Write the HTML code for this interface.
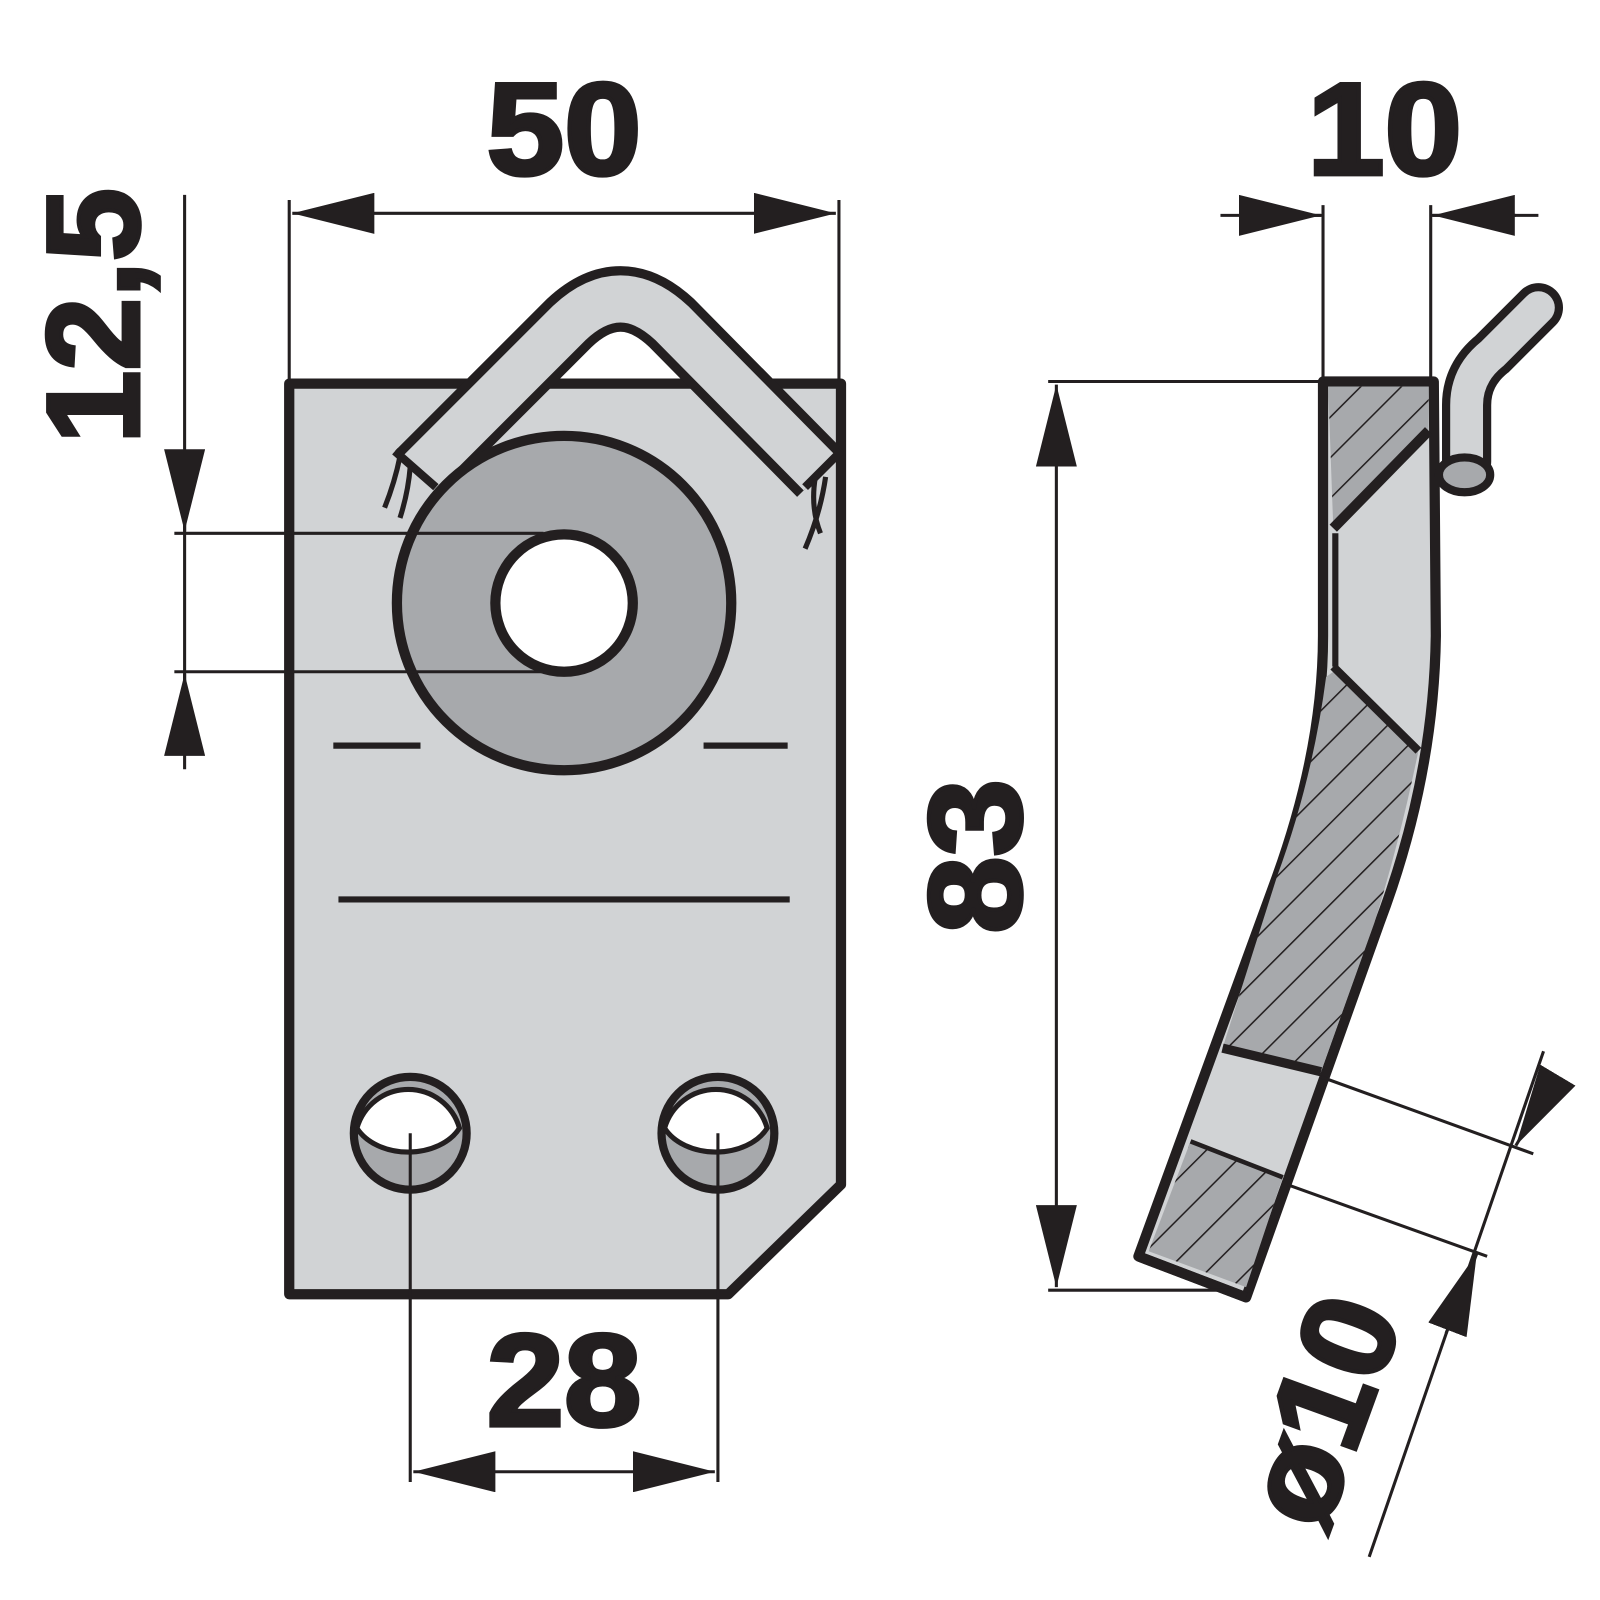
<!DOCTYPE html>
<html><head><style>html,body{margin:0;padding:0;background:#fff}svg{display:block}</style></head><body>
<svg width="1600" height="1600" viewBox="0 0 1600 1600" xmlns="http://www.w3.org/2000/svg">
<defs>
<pattern id="h" width="28" height="28" patternUnits="userSpaceOnUse" patternTransform="rotate(45)">
<rect width="28" height="28" fill="#a7a9ac"/><line x1="0" y1="0" x2="0" y2="28" stroke="#231f20" stroke-width="3"/>
</pattern>
<marker id="a" viewBox="0 0 80 40" refX="80" refY="20" markerWidth="80" markerHeight="40" markerUnits="userSpaceOnUse" orient="auto-start-reverse"><path d="M0,0 L80,20 L0,40 Z" fill="#231f20"/></marker>
</defs>
<g transform="scale(1.0256)">
<g stroke="#231f20" fill="none">
<path d="M282,374 L820,374 L820,1155 L710,1262 L282,1262 Z" fill="#d1d3d5" stroke-width="10" stroke-linejoin="round"/>
<path d="M408,462 L555,315 Q605,268 655,315 L800,462" stroke-width="64"/>
<path d="M408,462 L555,315 Q605,268 655,315 L800,462" stroke="#d1d3d5" stroke-width="46"/>
<path d="M385,440 L425,475 M820,440 L785,475" stroke-width="8"/>
<path d="M390,445 Q385,470 375,495 M400,455 Q398,480 390,505 M795,465 Q790,495 800,520 M805,465 Q800,500 785,535" stroke-width="5"/>
<circle cx="550" cy="588" r="163" fill="#a7a9ac" stroke-width="10"/>
<circle cx="550" cy="588" r="67" fill="#fff" stroke-width="10"/>
<path d="M325,727 H410 M686,727 H768 M330,877 H770" stroke-width="6"/>
<circle cx="400" cy="1105" r="55" fill="#a7a9ac" stroke-width="8"/>
<path d="M348,1100 A52,52 0 0 1 448,1100 A55,40 0 0 1 348,1100 Z" fill="#fff" stroke-width="5"/>
<circle cx="700" cy="1105" r="55" fill="#a7a9ac" stroke-width="8"/>
<path d="M648,1100 A52,52 0 0 1 748,1100 A55,40 0 0 1 648,1100 Z" fill="#fff" stroke-width="5"/>
<path d="M400,1105 V1445 M700,1105 V1445 M282,195 V372 M818,195 V372 M180,190 V750 M170,520 H530 M170,655 H530" stroke-width="3"/>
<line x1="403" y1="1435" x2="697" y2="1435" stroke-width="3" marker-start="url(#a)" marker-end="url(#a)"/>
<line x1="285" y1="208" x2="815" y2="208" stroke-width="3" marker-start="url(#a)" marker-end="url(#a)"/>
<line x1="180" y1="440" x2="180" y2="518" stroke-width="3" marker-end="url(#a)"/>
<line x1="180" y1="737" x2="180" y2="657" stroke-width="3" marker-end="url(#a)"/>
<path d="M1290,372 L1398,372 L1400,620 Q1398,760 1345,900 L1215,1265 L1110,1225 L1245,855 Q1290,730 1290,620 Z" fill="#d1d3d5" stroke-width="10" stroke-linejoin="round"/>
<path d="M1295,377 L1393,377 L1393,420 L1300,515 Z" fill="url(#h)" stroke="none"/>
<path d="M1393,420 L1300,515" stroke-width="10"/>
<path d="M1302,520 V650" stroke-width="6"/>
<path d="M1300,655 L1383,732 Q1365,820 1340,900 L1288,1045 L1192,1022 L1245,855 Q1280,760 1293,660 Z" fill="url(#h)" stroke="none"/>
<path d="M1300,650 L1383,732" stroke-width="8"/>
<path d="M1192,1022 L1288,1045 M1160,1115 L1250,1150" stroke-width="9"/>
<path d="M1160,1115 L1250,1150 L1215,1255 L1120,1220 Z" fill="url(#h)" stroke="none"/>
<path d="M1110,1225 L1215,1265" stroke-width="10"/>
<path d="M1430,450 V395 Q1430,365 1455,345 L1500,300" stroke-width="48" stroke-linecap="round"/>
<path d="M1430,450 V395 Q1430,365 1455,345 L1500,300" stroke="#d1d3d5" stroke-width="32" stroke-linecap="round"/>
<ellipse cx="1428" cy="463" rx="25" ry="17" fill="#a7a9ac" stroke-width="8"/>
<path d="M1022,372 H1290 M1022,1258 H1200 M1290,200 V372 M1395,200 V372 M1190,210 H1290 M1395,210 H1500" stroke-width="3"/>
<line x1="1030" y1="375" x2="1030" y2="1255" stroke-width="3" marker-start="url(#a)" marker-end="url(#a)"/>
<line x1="1210" y1="210" x2="1288" y2="210" stroke-width="3" marker-end="url(#a)"/>
<line x1="1478" y1="210" x2="1397" y2="210" stroke-width="3" marker-end="url(#a)"/>
<path d="M1288,1050 L1495,1125 M1255,1155 L1450,1225 M1505,1025 L1335,1518" stroke-width="3"/>
<line x1="1518" y1="1050" x2="1478" y2="1117" stroke-width="3" marker-end="url(#a)"/>
<line x1="1410" y1="1300" x2="1440" y2="1222" stroke-width="3" marker-end="url(#a)"/>
</g>
<g font-family="Liberation Sans, sans-serif" font-weight="bold" fill="#231f20" stroke="#231f20" stroke-width="4" text-anchor="middle" font-size="128">
<text transform="translate(550,170) scale(1.06,1)">50</text>
<text transform="translate(1350,170) scale(1.06,1)">10</text>
<text transform="translate(550,1390) scale(1.06,1)">28</text>
<text transform="translate(135,308) rotate(-90) scale(1.0,1)">12,5</text>
<text transform="translate(995,835) rotate(-90) scale(1.06,1)">83</text>
<text transform="translate(1330,1390) rotate(-70) scale(1.02,1)">ø10</text>
</g>
</g>
</svg>
</body></html>
